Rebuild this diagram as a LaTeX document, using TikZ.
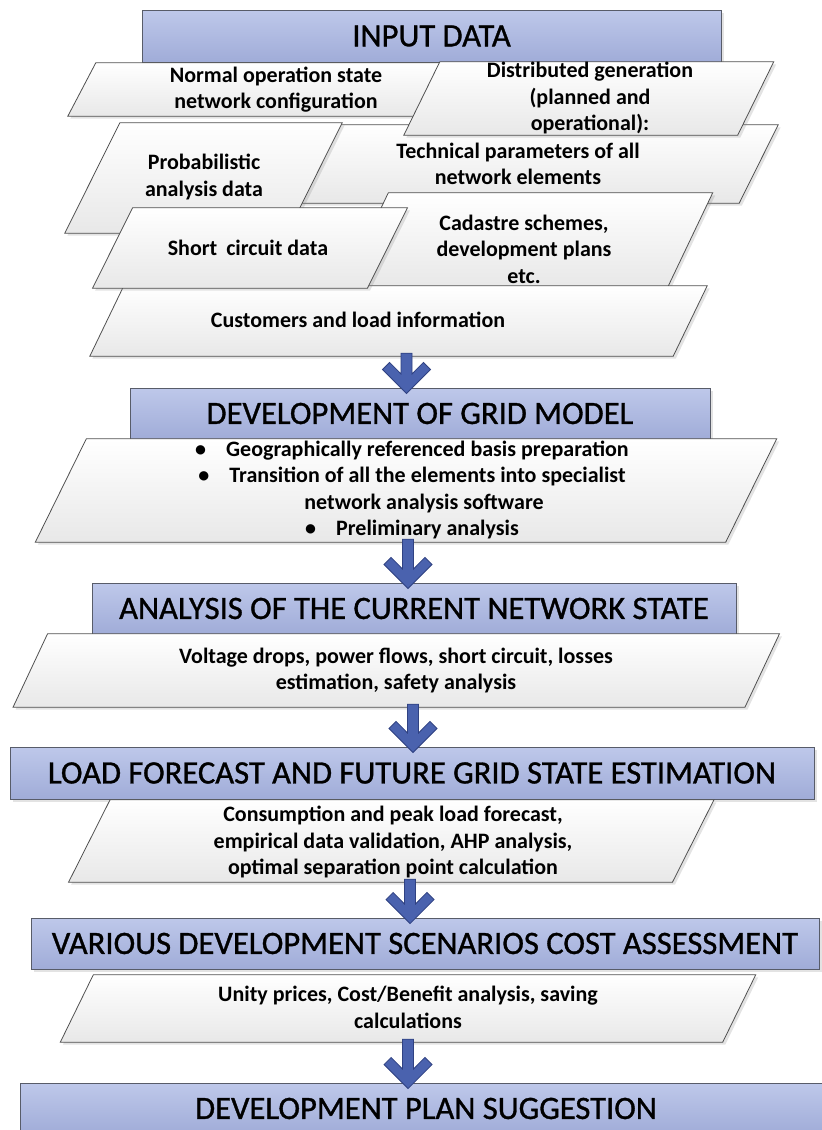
\documentclass[tikz,border=0pt]{standalone}
\usepackage{fontspec}
\setmainfont{Carlito}
\newfontfamily\titlefont{Carlito}[FakeBold=1.0]
\usetikzlibrary{shadows,calc}
\definecolor{boxtop}{RGB}{190,200,234}
\definecolor{boxbot}{RGB}{160,172,216}
\definecolor{boxline}{RGB}{88,92,105}
\definecolor{parabot}{RGB}{232,232,232}
\definecolor{paraline}{RGB}{80,80,80}
\definecolor{arrfill}{RGB}{74,98,174}
\definecolor{arrline}{RGB}{48,66,130}
\tikzset{
  softshadow/.style={drop shadow={shadow xshift=2.5pt, shadow yshift=-2.5pt, opacity=0.22}},
  titlebox/.style={draw=boxline, line width=0.9pt, top color=boxtop, bottom color=boxbot,
    inner sep=0pt, font=\titlefont\fontsize{32.6}{40}\selectfont, softshadow},
  parafill/.style={draw=paraline, line width=0.8pt, top color=white, bottom color=parabot, softshadow},
  paraframe/.style={inner sep=0pt, draw=none, fill=none},
  paratext/.style={inner sep=0pt, align=center, font=\fontsize{22}{26.5}\selectfont\bfseries},
  flowarr/.style={fill=arrfill, draw=arrline, line width=0.8pt, line join=miter}
}
% parallelogram: name, centre x, centre y, mid width, height, slant
\newcommand\parashape[6]{%
  \node[paraframe, minimum width=#4pt, minimum height=#5pt] (#1) at (#2,#3) {};
  \path[parafill] ([xshift=#6pt/2]#1.north west) -- ([xshift=#6pt/2]#1.north east)
    -- ([xshift=-#6pt/2]#1.south east) -- ([xshift=-#6pt/2]#1.south west) -- cycle;}
% block arrow: x, from node, to node
\newcommand\flowarrow[3]{%
  \path[flowarr] let \p1=(#1,0 |- #2.south), \p2=(#1,0 |- #3.north) in
    (\x1-5.5pt,\y1+3pt) -- (\x1-5.5pt,\y2+13.6pt) -- (\x1-16.9pt,\y2+25.1pt)
    -- (\x1-24pt,\y2+18pt) -- (\x1,\y2-6pt) -- (\x1+24pt,\y2+18pt)
    -- (\x1+16.9pt,\y2+25.1pt) -- (\x1+5.5pt,\y2+13.6pt) -- (\x1+5.5pt,\y1+3pt) -- cycle;}
\begin{document}
\begin{tikzpicture}[x=1pt,y=-1pt]
\useasboundingbox (0,0) rectangle (822,1130);
\fill[white] (0,0) rectangle (822,1130);

\node[titlebox, minimum width=579pt, minimum height=52pt] (input) at (431.5,36) {INPUT DATA};

\parashape{tech}{518}{164}{481}{78}{39}
\node[paratext] (techT) at (518,164) {Technical parameters of all\\network elements};
\parashape{norm}{276}{89.5}{388}{53}{28}
\node[paratext] (normT) at (276,89.5) {Normal operation state\\network configuration};
\parashape{dist}{588.75}{98.5}{333.5}{73}{36}
\node[paratext] (distT) at (590,98) {Distributed generation\\(planned and\\operational):};
\parashape{prob}{203.5}{178}{222}{110}{55}
\node[paratext] (probT) at (204,177) {Probabilistic\\analysis data};
\parashape{cad}{528}{240}{324}{94}{45}
\node[paratext] (cadT) at (524,249) {Cadastre schemes,\\development plans\\etc.};
\parashape{cust}{398.5}{321}{583}{70}{34}
\node[paratext] (custT) at (358,320) {Customers and load information};
\parashape{short}{250}{248}{274.5}{80}{40}
\node[paratext] (shortT) at (248,248) {Short\hspace{4pt} circuit data};

\node[titlebox, minimum width=580pt, minimum height=51pt] (dev) at (420,413.5) {DEVELOPMENT OF GRID MODEL};
\flowarrow{406.5}{cust}{dev}
\parashape{geo}{406}{490.5}{690}{103}{51}
\node[paratext] (geoT) at (412,490) {\textbullet\hspace{20pt}Geographically referenced basis preparation\\
  \textbullet\hspace{20pt}Transition of all the elements into specialist\\
  \hspace*{24pt}network analysis software\\
  \textbullet\hspace{20pt}Preliminary analysis};

\node[titlebox, minimum width=644pt, minimum height=51pt] (ana) at (414,608.5) {ANALYSIS OF THE CURRENT NETWORK STATE};
\flowarrow{408}{geo}{ana}
\parashape{volt}{396.25}{670.5}{731.5}{73}{34.5}
\node[paratext] (voltT) at (396,670.5) {Voltage drops, power flows, short circuit, losses\\estimation, safety analysis};

\node[titlebox, minimum width=804pt, minimum height=52pt] (load) at (412,773) {LOAD FORECAST AND FUTURE GRID STATE ESTIMATION};
\flowarrow{413}{volt}{load}
\parashape{cons}{391.25}{841}{603.5}{82}{41.5}
\node[paratext] (consT) at (393,842) {Consumption and peak load forecast,\\empirical data validation, AHP analysis,\\optimal separation point calculation};

\node[titlebox, minimum width=788pt, minimum height=51pt] (vari) at (425,943.5) {VARIOUS DEVELOPMENT SCENARIOS COST ASSESSMENT};
\flowarrow{410}{cons}{vari}
\parashape{unity}{408}{1008.5}{662}{67}{33}
\node[paratext] (unityT) at (408,1007.5) {Unity prices, Cost/Benefit analysis, saving\\calculations};

\node[titlebox, minimum width=812pt, minimum height=51pt] (plan) at (426,1108.5) {DEVELOPMENT PLAN SUGGESTION};
\flowarrow{408}{unity}{plan}
\end{tikzpicture}
\end{document}
